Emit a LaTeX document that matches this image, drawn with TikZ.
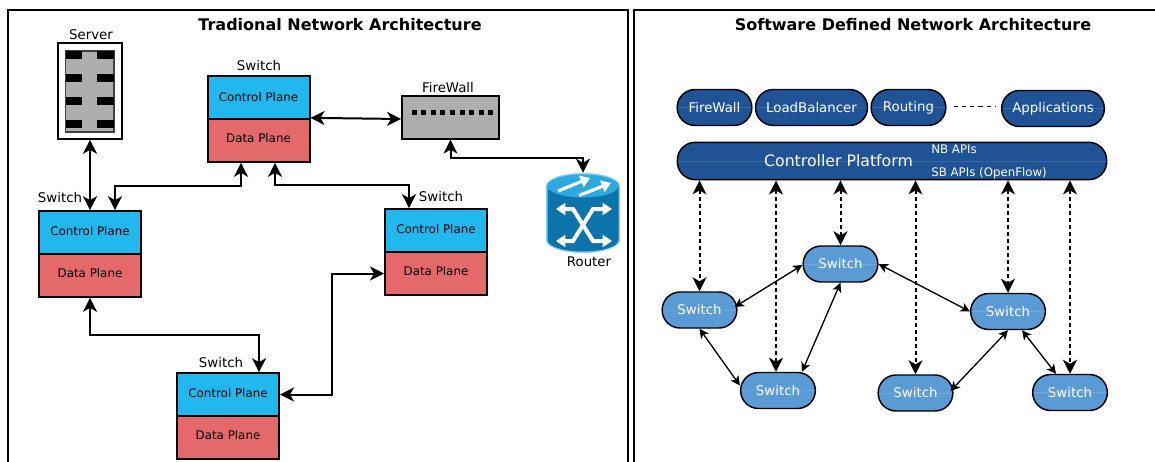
\documentclass[tikz,border=0pt]{standalone}
\usepackage{fontspec}
\setmainfont{DejaVu Sans}
\usetikzlibrary{arrows.meta,calc}
\definecolor{cpblue}{HTML}{22B8EE}
\definecolor{dpred}{HTML}{E4696B}
\definecolor{devgray}{HTML}{AEAEAE}
\definecolor{appblue}{HTML}{1F5395}
\definecolor{swblue}{HTML}{5B9BD5}
\definecolor{rtbody}{HTML}{0C73AB}
\definecolor{rttop}{HTML}{2FA8E0}
\definecolor{rtedge}{HTML}{7FD0F2}
\newcommand{\cptxt}{\raisebox{2.6pt}{Control Plane}}
\newcommand{\dptxt}{\raisebox{3.4pt}{Data Plane}}
\tikzset{
  cpbox/.style={draw=black,line width=1.5pt,fill=cpblue,minimum width=76.5pt,minimum height=32pt,inner sep=0pt,font=\fontsize{8.9}{10}\selectfont},
  dpbox/.style={cpbox,fill=dpred},
  lbl/.style={inner sep=0pt,font=\fontsize{10}{12}\selectfont},
  ttl/.style={inner sep=0pt,font=\fontsize{12}{14}\selectfont\bfseries},
  panel/.style={draw=black,line width=1.5pt},
  midline/.style={path picture={\draw[white,opacity=.12,line width=.4pt] (path picture bounding box.west)--(path picture bounding box.east);}},
  capsule/.style={draw=black,line width=1.1pt,rounded corners=13.4pt,inner sep=0pt,text=white,midline,font=\fontsize{10}{12}\selectfont},
  app/.style={capsule,fill=appblue},
  sw/.style={capsule,fill=swblue,minimum width=56pt,minimum height=27pt},
  thick arr/.style={line width=1.5pt,{Stealth[length=10.5pt,width=10.5pt,inset=3pt]}-{Stealth[length=10.5pt,width=10.5pt,inset=3pt]}},
  dot arr/.style={line width=1.5pt,dash pattern=on 3pt off 2.25pt,{Stealth[length=10.5pt,width=10.5pt,inset=3pt]}-{Stealth[length=10.5pt,width=10.5pt,inset=3pt]}},
  thin arr/.style={line width=1pt,{Stealth[length=7pt,width=7pt,inset=1.8pt]}-{Stealth[length=7pt,width=7pt,inset=1.8pt]}},
  rtarrow/.style={draw=white,line width=2.4pt,-{Triangle[length=7pt,width=9pt]}},
}
\begin{document}
\begin{tikzpicture}[x=0.75pt,y=-0.75pt]
\useasboundingbox (0,0) rectangle (1155,461);
\clip (0,0) rectangle (1155,461);
% panels
\draw[panel] (8,480) -- (8,9.5) -- (628,9.5) -- (628,480);
\draw[panel] (634,480) -- (634,9.5) -- (1170,9.5);
\node[ttl] (t1) at (340,25) {Tradional Network Architecture};
\node[ttl] (t2) at (913,25) {Software Defined Network Architecture};

% server
\node[draw=black,line width=1.2pt,fill=white,minimum width=48pt,minimum height=72pt,inner sep=0pt] (server) at (90,91) {};
\draw[draw=black!75,line width=.8pt,fill=devgray] (65.5,51) rectangle (114,132);
\foreach \yy in {51,74,97,120}{
  \fill[black] (65.5,\yy) rectangle (82,\yy+8);
  \fill[black] (97,\yy) rectangle (114,\yy+8);
}
\node[lbl] (lserver) at (91,35) {Server};

% switches
\node[cpbox] (cpT) at (258.5,97.5) {Control Plane};
\node[dpbox] (dpT) at (258.5,140.5) {\dptxt};
\node[lbl] (lT) at (259,66) {Switch};
\node[cpbox] (cpL) at (90,232.5) {\cptxt};
\node[dpbox] (dpL) at (90,275.5) {\dptxt};
\node[lbl] (lL) at (60,198) {Switch};
\node[cpbox] (cpR) at (436,230.5) {\cptxt};
\node[dpbox] (dpR) at (436,273.5) {\dptxt};
\node[lbl] (lR) at (441,197) {Switch};
\node[cpbox] (cpB) at (228,394.5) {\cptxt};
\node[dpbox] (dpB) at (228,437.5) {\dptxt};
\node[lbl] (lB) at (221,363) {Switch};

% firewall
\node[draw=black,line width=1.2pt,fill=devgray,minimum width=73pt,minimum height=32pt,inner sep=0pt] (fw) at (450.5,117.5) {};
\foreach \xx in {0,...,8}{
  \fill[black] (414+\xx*9.6-2.5,109.5) rectangle (414+\xx*9.6+2.5,114.5);
}
\node[lbl] (lfw) at (448,88) {FireWall};

% router
\fill[rtedge] (546,186) arc[start angle=180,end angle=360,x radius=37,y radius=13] -- (620,240) arc[start angle=0,end angle=180,x radius=37,y radius=13] -- cycle;
\fill[rtbody] (547.5,186) arc[start angle=180,end angle=360,x radius=35.5,y radius=11] -- (618.5,240) arc[start angle=0,end angle=180,x radius=35.5,y radius=11.5] -- cycle;
\fill[rttop] (583,186) ellipse[x radius=35.5,y radius=11.5];
\draw[rtarrow] (558,191) -- (590,178);
\draw[rtarrow] (579,195.5) -- (611,183);
\draw[rtarrow] (570,209) -- (556,209);
\draw[rtarrow] (571,241) -- (556,241);
\draw[rtarrow] (596,209) -- (612,209);
\draw[rtarrow] (596,241) -- (612,241);
\draw[white,line width=3pt] (566,209) -- (573,209) -- (593,241) -- (600,241);
\draw[white,line width=3pt] (566,241) -- (573,241) -- (593,209) -- (600,209);
\node[minimum width=55pt,minimum height=60pt,inner sep=0pt] (router) at (583,213) {};
\node[lbl] (lrt) at (589,262) {Router};

% left connectors
\draw[thick arr] (server.south) -- (cpL.north);
\draw[thick arr] (dpT.south -| 241,0) -- (241,186) -- (115,186) -- (cpL.north -| 115,0);
\draw[thick arr] (dpT.south -| 275,0) -- (275,185) -- (409,185) -- (cpR.north -| 409,0);
\draw[thick arr] ($(cpT.south east)+(0,-2)$) -- ($(fw.west)+(0,1.5)$);
\draw[thick arr] (fw.south) -- ($(fw.south)+(0,18)$) -| (router.north);
\draw[thick arr] (dpL.south) -- ($(dpL.south)+(0,37)$) -| ($(cpB.north)+(31,0)$);
\draw[thick arr] (cpB.east) -- (332,394.5) -- (332,273.5) -- (dpR.west);

% SDN apps
\node[app,minimum width=56pt,minimum height=27pt] (a1) at (714.5,107.5) {FireWall};
\node[app,minimum width=84pt,minimum height=27pt] (a2) at (811.5,107.5) {LoadBalancer};
\node[app,minimum width=56pt,minimum height=27pt] (a3) at (908.5,107.5) {Routing};
\node[app,minimum width=77pt,minimum height=27pt] (a4) at (1053,108.5) {Applications};
\draw[line width=.7pt,dash pattern=on 3.2pt off 3pt] (a3.east)++(7,-1) -- ($(a4.west)+(-6,-2)$);
\node[app,minimum width=322pt,minimum height=28pt] (ctrl) at (892,161) {};
\node[lbl,text=white,font=\fontsize{11.8}{13}\selectfont] (tctrl) at (838.5,161) {Controller Platform};
\node[lbl,text=white,anchor=west,font=\fontsize{8.85}{10}\selectfont] (tnb) at (931,149) {NB APIs};
\node[lbl,text=white,anchor=west,font=\fontsize{8.85}{10}\selectfont] (tsb) at (931,173) {SB APIs (OpenFlow)};

% SDN switches
\node[sw] (s1) at (699.5,310) {Switch};
\node[sw] (s2) at (778,390.5) {Switch};
\node[sw] (s3) at (840.5,264) {Switch};
\node[sw] (s4) at (915.5,393) {Switch};
\node[sw] (s5) at (1008,311.5) {Switch};
\node[sw] (s6) at (1070,392.5) {Switch};

% dotted
\draw[dot arr] (s1.north |- ctrl.south) -- (s1.north);
\draw[dot arr] (776,180.5) -- ($(s2.north)+(-2,0)$);
\draw[dot arr] (s3.north |- ctrl.south) -- (s3.north);
\draw[dot arr] (s4.north |- ctrl.south) -- (s4.north);
\draw[dot arr] (s5.north |- ctrl.south) -- (s5.north);
\draw[dot arr] (s6.north |- ctrl.south) -- (s6.north);

% solid thin
\draw[thin arr] ($(s1.east)+(-3,-3)$) -- ($(s3.west)+(0,1)$);
\draw[thin arr] (s1.south) -- ($(s2.west)+(0,-5)$);
\draw[thin arr] ($(s2.north)+(24,0)$) -- (s3.south);
\draw[thin arr] (s3.east) -- (s5.west);
\draw[thin arr] (s5.south) -- ($(s4.east)+(-3,-2)$);
\draw[thin arr] ($(s5.south)+(14,0)$) -- ($(s6.north)+(-14,0)$);
\end{tikzpicture}
\end{document}
